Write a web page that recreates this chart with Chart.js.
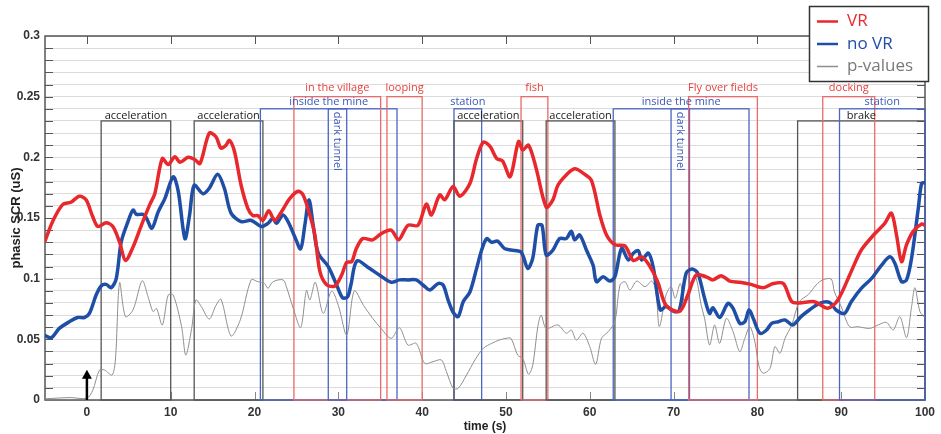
<!DOCTYPE html>
<html>
<head>
<meta charset="utf-8">
<script src="https://cdn.jsdelivr.net/npm/chart.js@4.4.1/dist/chart.umd.min.js"></script>
<style>
html, body { margin: 0; padding: 0; background: #fff; }
</style>
</head>
<body>
<canvas id="scrChart" width="941" height="434"></canvas>
<script>
// phasic SCR, VR vs no VR, with p-values

// VR (red)
const vrTime = [-5, -4.1, -2.9, -1.9, -0.9, -0.1, 0.7, 1.3, 2.3, 3.1, 3.9, 4.6, 5.5, 6.5, 7.5, 8.1, 9, 9.7, 10.5, 11.1,
  12.1, 12.9, 13.5, 14.6, 15.4, 16, 16.6, 17, 17.6, 18.4, 19.2, 19.8, 20.4, 21, 21.7, 22.4, 23.2, 24.2, 25.2, 25.8,
  26.6, 27.2, 27.8, 28.6, 29.6, 30.4, 31, 31.6, 32.1, 32.9, 34.1, 35.1, 36.3, 37.2, 38.3, 39.5, 40.5, 41.1, 42.1, 42.7,
  43.7, 44.5, 45.7, 46.5, 47.3, 48.1, 48.9, 49.6, 50.5, 51.5, 52, 52.7, 53.6, 54.8, 55.6, 56.2, 57.2, 58.2, 59.2, 60.2,
  61.2, 62, 63, 64.2, 65.2, 66.2, 67.1, 68.1, 69.1, 70.7, 71.7, 72.7, 73.9, 74.7, 75.7, 76.7, 77.9, 79.1, 80.7, 81.9,
  83.1, 84.1, 85, 86.8, 88.4, 89.6, 91.2, 92.4, 94, 95.2, 96, 96.6, 97.2, 97.8, 98.6, 99.6, 100];
const vrScr = [0.131, 0.147, 0.161, 0.163, 0.168, 0.165, 0.151, 0.143, 0.146, 0.143, 0.130, 0.115, 0.126, 0.144, 0.161, 0.170, 0.199, 0.194, 0.2005, 0.196,
  0.200, 0.198, 0.195, 0.220, 0.217, 0.2075, 0.210, 0.214, 0.205, 0.177, 0.158, 0.152, 0.152, 0.148, 0.156, 0.148, 0.155, 0.166, 0.172, 0.169,
  0.1525, 0.136, 0.106, 0.095, 0.094, 0.103, 0.1135, 0.114, 0.124, 0.133, 0.132, 0.137, 0.140, 0.132, 0.144, 0.144, 0.1615, 0.1525, 0.169, 0.165,
  0.176, 0.168, 0.1785, 0.199, 0.2125, 0.209, 0.199, 0.197, 0.184, 0.213, 0.206, 0.210, 0.191, 0.159, 0.165, 0.177, 0.1855, 0.1905, 0.187, 0.181,
  0.1525, 0.136, 0.128, 0.127, 0.115, 0.118, 0.111, 0.0975, 0.078, 0.073, 0.0865, 0.103, 0.1015, 0.099, 0.1025, 0.098, 0.097, 0.0955, 0.0925, 0.096,
  0.096, 0.081, 0.080, 0.081, 0.0756, 0.0824, 0.106, 0.1236, 0.137, 0.1456, 0.154, 0.136, 0.114, 0.128, 0.139, 0.145, 0.144];

// no VR (blue)
const noVrTime = [-5, -4.25, -3.3, -2.1, -1.1, -0.3, 0.3, 1.1, 1.7, 2.3, 2.9, 3.5, 4.1, 4.9, 5.5, 5.9, 6.7, 7.1, 7.75, 8.5,
  9.3, 10.3, 10.9, 11.7, 12.25, 12.8, 13.85, 14.6, 15.6, 16.4, 17.2, 18.4, 19.6, 20.8, 21.6, 22.2, 22.6, 23.4, 24, 24.8,
  25.5, 26, 26.5, 27, 27.6, 28.8, 29.8, 30.5, 31.1, 31.5, 32.2, 33.7, 34.9, 36.3, 37.3, 38.3, 39.3, 40.1, 40.9, 41.9,
  42.5, 43.1, 43.7, 44.3, 44.9, 45.7, 46.5, 47.1, 47.7, 48.3, 49, 49.8, 50.6, 51.8, 52.6, 53.2, 53.8, 54.3, 54.8, 55.6,
  56.4, 57.2, 57.8, 58.2, 58.8, 59.6, 60.4, 60.8, 61.6, 62.4, 63, 63.8, 64.6, 65.2, 65.8, 66.2, 67, 67.6, 68.4, 69.1,
  70.1, 70.7, 71.5, 72.2, 72.9, 73.7, 74.3, 74.7, 75.5, 76.5, 77.1, 77.9, 78.5, 79, 79.5, 80.3, 81.1, 81.7, 82.5, 83.3,
  84.2, 85.2, 86.2, 87.4, 88.6, 89.4, 90.4, 91.2, 92.4, 93.6, 94.8, 95.8, 96.4, 97.2, 97.8, 98.4, 99.2, 99.6, 100];
const noVrScr = [0.053, 0.0514, 0.059, 0.0645, 0.068, 0.068, 0.0714, 0.0865, 0.094, 0.0953, 0.0925, 0.100, 0.1305, 0.147, 0.1566, 0.153, 0.153, 0.150, 0.1415, 0.155,
  0.166, 0.184, 0.172, 0.133, 0.1525, 0.177, 0.170, 0.1745, 0.186, 0.1745, 0.154, 0.147, 0.148, 0.143, 0.1456, 0.1497, 0.1456, 0.1525, 0.147, 0.1346,
  0.1245, 0.144, 0.165, 0.144, 0.121, 0.110, 0.0948, 0.0843, 0.085, 0.095, 0.1145, 0.1085, 0.103, 0.097, 0.099, 0.099, 0.099, 0.0948, 0.0907, 0.096,
  0.0948, 0.0824, 0.0723, 0.0687, 0.081, 0.089, 0.1085, 0.1236, 0.133, 0.130, 0.131, 0.125, 0.1236, 0.122, 0.1085, 0.117, 0.144, 0.144, 0.1195, 0.1236,
  0.133, 0.133, 0.139, 0.132, 0.136, 0.1236, 0.111, 0.0975, 0.1016, 0.098, 0.1016, 0.125, 0.1154, 0.121, 0.123, 0.1154, 0.121, 0.1085, 0.0742, 0.077,
  0.0728, 0.0742, 0.1044, 0.108, 0.1044, 0.0838, 0.0714, 0.076, 0.068, 0.0797, 0.0756, 0.0632, 0.0645, 0.0742, 0.0673, 0.055, 0.0577, 0.0632, 0.0645, 0.066,
  0.0618, 0.0687, 0.0742, 0.0797, 0.0805, 0.0742, 0.0714, 0.081, 0.092, 0.100, 0.111, 0.118, 0.1127, 0.0975, 0.099, 0.117, 0.158, 0.1786, 0.179];

// p-values (grey)
const pTime = [-5, -2, 0, 0.7, 1.5, 2.1, 3, 3.4, 3.9, 4.6, 5.5, 6.6, 7.3, 7.9, 8.3, 9, 9.7, 10.3, 11.3, 11.8,
  12.5, 13, 13.65, 14.6, 15.4, 16, 17.2, 18.3, 19.6, 20.4, 21.2, 21.6, 22.2, 23.4, 23.8, 24.6, 25.5, 26.2, 26.6, 27.25,
  28.2, 29.2, 30, 31, 31.9, 33, 34.1, 35.1, 36.3, 37.3, 38.3, 39.3, 40.3, 41.3, 42.3, 42.9, 43.7, 44.3, 45.3, 46.3,
  47.3, 48.3, 49.2, 50, 50.6, 51.4, 52, 52.7, 53.2, 53.8, 54.2, 54.8, 56.2, 57.2, 57.8, 58.4, 59.2, 60, 60.7, 61.4,
  62.2, 63, 63.6, 64.2, 64.8, 65.6, 66.6, 67.4, 67.9, 68.3, 69.1, 69.7, 70.2, 70.8, 71.3, 71.9, 72.6, 73.3, 73.7, 74.3,
  74.9, 75.5, 76.3, 77.1, 77.9, 78.5, 79.1, 79.7, 80.2, 80.7, 81.5, 82.1, 82.7, 83.3, 84.1, 85, 86.1, 87, 87.8, 88.8,
  89.2, 90, 91, 92, 93.4, 94.4, 95.4, 96.2, 97, 97.8, 98.4, 98.8, 99.4, 100];
const pValue = [0.001, 0.002, 0.0015, 0.008, 0.0247, 0.0247, 0.0206, 0.033, 0.0967, 0.0687, 0.0742, 0.0983, 0.085, 0.0728, 0.0755, 0.0618, 0.0865, 0.0865, 0.0604, 0.037,
  0.059, 0.0824, 0.077, 0.0667, 0.078, 0.083, 0.0528, 0.066, 0.099, 0.0975, 0.096, 0.092, 0.0975, 0.099, 0.0934, 0.076, 0.0597, 0.0905, 0.0824, 0.097,
  0.0714, 0.0898, 0.078, 0.0536, 0.090, 0.078, 0.0673, 0.059, 0.0508, 0.0596, 0.0453, 0.0467, 0.0302, 0.0316, 0.033, 0.0233, 0.0096, 0.0096, 0.0206, 0.033,
  0.0426, 0.0467, 0.0494, 0.0508, 0.0508, 0.037, 0.0343, 0.0212, 0.0288, 0.0604, 0.070, 0.059, 0.0618, 0.055, 0.0577, 0.0494, 0.055, 0.044, 0.0294, 0.0508,
  0.0563, 0.0645, 0.0948, 0.0975, 0.0907, 0.098, 0.0934, 0.098, 0.089, 0.0604, 0.0865, 0.0934, 0.0838, 0.096, 0.081, 0.0948, 0.1016, 0.078, 0.0673, 0.0453,
  0.0618, 0.0467, 0.0673, 0.0563, 0.0398, 0.0508, 0.0604, 0.048, 0.0275, 0.022, 0.026, 0.044, 0.0385, 0.0508, 0.0618, 0.081, 0.087, 0.0948, 0.099, 0.0997,
  0.089, 0.077, 0.0604, 0.0604, 0.059, 0.0618, 0.064, 0.0577, 0.0687, 0.0514, 0.077, 0.0926, 0.0728, 0.068];

// ride phases (seconds)
const phaseLabel = ['acceleration', 'acceleration', 'inside the mine', 'in the village', 'dark tunnel', 'looping', 'station', 'acceleration',
  'fish', 'acceleration', 'inside the mine', 'dark tunnel', 'Fly over fields', 'brake', 'docking', 'station'];
const phaseStart = [1.7, 12.8, 20.7, 24.7, 28.8, 35.8, 43.8, 43.8, 51.8, 54.8, 62.8, 69.7, 71.8, 84.8, 87.8, 89.8];
const phaseEnd = [10, 21, 37, 35.05, 31, 40, 47.1, 52, 55, 63, 79, 71.9, 80, 100, 94, 100];
const phaseKind = ['motion', 'motion', 'mine', 'scene', 'mine', 'scene', 'mine', 'motion',
  'scene', 'motion', 'mine', 'mine', 'scene', 'motion', 'scene', 'mine'];

const timeTicks = [0, 10, 20, 30, 40, 50, 60, 70, 80, 90, 100];
const scrTicks = [0, 0.05, 0.1, 0.15, 0.2, 0.25, 0.3];
const scrTickLabels = ['0', '0.05', '0.1', '0.15', '0.2', '0.25', '0.3'];
const stimulusOnset = 0;

// look of the phase boxes
const kindTop = { motion: 0.23, mine: 0.24, scene: 0.25 };
const kindLine = { motion: '#555555', mine: '#4a65c2', scene: '#e96a6a' };
const kindText = { motion: '#1a1a1a', mine: '#3a58b8', scene: '#e8403c' };
const kindGap = { motion: 2, mine: 3.5, scene: 6 };

const RED = '#e8282c';
const BLUE = '#1f4ea6';
const GREY = '#8f8f8f';

function pairs(xs, ys) {
  return xs.map((x, i) => ({ x: x, y: ys[i] }));
}

// boxes, inner ticks and frame, drawn under the curves
const phasePlugin = {
  id: 'phases',
  beforeDatasetsDraw(chart) {
    const ctx = chart.ctx;
    const xs = chart.scales.x, ys = chart.scales.y;
    const a = chart.chartArea;
    ctx.save();

    // inner tick marks
    ctx.strokeStyle = '#555';
    ctx.lineWidth = 1;
    ctx.beginPath();
    for (let i = 1; i < 30; i++) {
      const py = Math.round(ys.getPixelForValue(i / 100)) + 0.5;
      ctx.moveTo(a.left, py); ctx.lineTo(a.left + 8, py);
      ctx.moveTo(a.right, py); ctx.lineTo(a.right - 8, py);
    }
    timeTicks.forEach(t => {
      const px = Math.round(xs.getPixelForValue(t)) + 0.5;
      ctx.moveTo(px, a.top); ctx.lineTo(px, a.top + 8);
    });
    ctx.stroke();
    ctx.strokeStyle = '#888';
    ctx.beginPath();
    timeTicks.forEach(t => {
      const px = Math.round(xs.getPixelForValue(t)) + 0.5;
      ctx.moveTo(px, a.bottom); ctx.lineTo(px, a.bottom - 8);
    });
    ctx.stroke();

    // frame
    ctx.strokeStyle = '#555';
    ctx.lineWidth = 1.5;
    ctx.strokeRect(a.left, a.top, a.right - a.left, a.bottom - a.top);

    // phase boxes
    ctx.lineWidth = 1.3;
    phaseLabel.forEach((lab, i) => {
      const kind = phaseKind[i];
      const x0 = xs.getPixelForValue(phaseStart[i]);
      const x1 = xs.getPixelForValue(phaseEnd[i]);
      const y0 = ys.getPixelForValue(kindTop[kind]);
      const y1 = ys.getPixelForValue(0);
      ctx.strokeStyle = kindLine[kind];
      ctx.strokeRect(x0, y0, x1 - x0, y1 - y0);
    });

    // phase labels
    ctx.font = '11px "Open Sans"';
    phaseLabel.forEach((lab, i) => {
      const kind = phaseKind[i];
      const x0 = xs.getPixelForValue(phaseStart[i]);
      const x1 = xs.getPixelForValue(phaseEnd[i]);
      const y0 = ys.getPixelForValue(kindTop[kind]);
      ctx.fillStyle = kindText[kind];
      if (lab === 'dark tunnel') {
        ctx.save();
        ctx.translate((x0 + x1) / 2, y0 + 3);
        ctx.rotate(Math.PI / 2);
        ctx.textAlign = 'left';
        ctx.textBaseline = 'middle';
        ctx.fillText(lab, 0, 0);
        ctx.restore();
      } else {
        ctx.textAlign = 'center';
        ctx.textBaseline = 'alphabetic';
        ctx.fillText(lab, (x0 + x1) / 2, y0 - kindGap[kind]);
      }
    });
    ctx.restore();
  },
  afterDatasetsDraw(chart) {
    // onset arrow
    const ctx = chart.ctx;
    const px = chart.scales.x.getPixelForValue(stimulusOnset);
    const yb = chart.scales.y.getPixelForValue(0);
    const yt = chart.scales.y.getPixelForValue(0.025);
    ctx.save();
    ctx.strokeStyle = '#000';
    ctx.fillStyle = '#000';
    ctx.lineWidth = 2.5;
    ctx.beginPath();
    ctx.moveTo(px, yb); ctx.lineTo(px, yt + 6);
    ctx.stroke();
    ctx.beginPath();
    ctx.moveTo(px, yt);
    ctx.lineTo(px - 5, yt + 9);
    ctx.lineTo(px + 5, yt + 9);
    ctx.closePath();
    ctx.fill();
    ctx.restore();
  },
  afterDraw(chart) {
    // legend box, top right
    const ctx = chart.ctx;
    const items = [['VR', RED, 2.5], ['no VR', BLUE, 2.5], ['p-values', GREY, 1.5]];
    ctx.save();
    ctx.fillStyle = '#fff';
    ctx.fillRect(809.5, 6.5, 119, 75);
    ctx.strokeStyle = '#333';
    ctx.lineWidth = 1.5;
    ctx.strokeRect(809.5, 6.5, 119, 75);
    ctx.font = '17px "Open Sans"';
    ctx.textAlign = 'left';
    ctx.textBaseline = 'middle';
    items.forEach((it, i) => {
      const y = 21.5 + i * 22.5;
      ctx.strokeStyle = it[1];
      ctx.lineWidth = it[2];
      ctx.beginPath();
      ctx.moveTo(817, y); ctx.lineTo(838, y);
      ctx.stroke();
      ctx.fillStyle = i === 2 ? '#7a7a7a' : it[1];
      ctx.fillText(it[0], 847, y);
    });
    ctx.restore();
  }
};

const ctx = document.getElementById('scrChart').getContext('2d');
const scrChart = new Chart(ctx, {
  type: 'line',
  data: {
    datasets: [
      { label: 'VR', data: pairs(vrTime, vrScr), borderColor: RED, borderWidth: 3.5, order: 1 },
      { label: 'no VR', data: pairs(noVrTime, noVrScr), borderColor: BLUE, borderWidth: 3.5, order: 2 },
      { label: 'p-values', data: pairs(pTime, pValue), borderColor: GREY, borderWidth: 1, order: 3 }
    ]
  },
  options: {
    responsive: false,
    devicePixelRatio: 1,
    animation: false,
    layout: { padding: { top: 36, right: 16, left: 0, bottom: 0 } },
    elements: {
      point: { radius: 0 },
      line: { tension: 0.3, fill: false, borderCapStyle: 'round', borderJoinStyle: 'round' }
    },
    plugins: { legend: { display: false }, tooltip: { enabled: false } },
    scales: {
      x: {
        type: 'linear',
        min: -5,
        max: 100,
        afterBuildTicks: s => { s.ticks = timeTicks.map(v => ({ value: v })); },
        afterFit: s => { s.height = 34; },
        grid: { display: false, drawTicks: false },
        border: { display: false },
        ticks: { padding: 5, color: '#333', font: { family: 'Liberation Sans', size: 12, weight: 'bold' }, maxRotation: 0 },
        title: { display: true, text: 'time (s)', color: '#222', padding: 0, font: { family: 'Liberation Sans', size: 12, weight: 'bold' } }
      },
      y: {
        min: 0,
        max: 0.3,
        afterBuildTicks: s => {
          const t = [];
          for (let i = 0; i <= 30; i++) t.push({ value: i / 100 });
          s.ticks = t;
        },
        afterFit: s => { s.width = 45; },
        grid: { color: '#dcdcdc', lineWidth: 1, drawTicks: false },
        border: { display: false },
        ticks: {
          autoSkip: false,
          padding: 5,
          color: '#333',
          font: { family: 'Liberation Sans', size: 12, weight: 'bold' },
          callback: v => {
            const i = scrTicks.findIndex(t => Math.abs(t - v) < 1e-6);
            return i >= 0 ? scrTickLabels[i] : '';
          }
        },
        title: { display: true, text: 'phasic SCR (uS)', color: '#222', padding: { top: 9, bottom: 0 }, font: { family: 'Liberation Sans', size: 13, weight: 'bold' } }
      }
    }
  },
  plugins: [phasePlugin]
});
</script>
</body>
</html>
